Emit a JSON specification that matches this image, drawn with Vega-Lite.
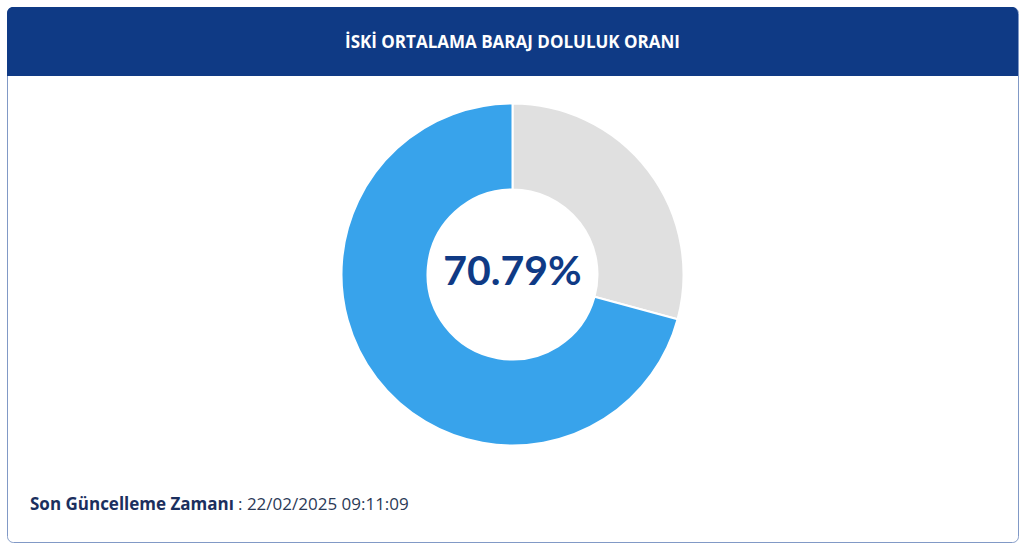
{
  "$schema": "https://vega.github.io/schema/vega-lite/v6.json",
  "width": 1024,
  "height": 547,
  "autosize": {"type": "fit", "contains": "padding"},
  "padding": {"left": 7, "top": 7, "right": 6, "bottom": 5},
  "background": "white",
  "view": {"stroke": "#8199c6", "strokeWidth": 1, "cornerRadius": 6, "fill": "white"},
  "config": {"font": "Open Sans"},
  "datasets": {
    "baraj": [
      {"durum": "Boş", "oran": 0.2921},
      {"durum": "Dolu", "oran": 0.7079}
    ],
    "baslik": [{"metin": "İSKİ ORTALAMA BARAJ DOLULUK ORANI"}],
    "guncelleme": [{"etiket": "Son Güncelleme Zamanı", "zaman": ": 22/02/2025 09:11:09"}]
  },
  "layer": [
    {
      "data": {"name": "baslik"},
      "mark": {"type": "rect", "color": "#0f3a85", "cornerRadiusTopLeft": 6, "cornerRadiusTopRight": 6},
      "encoding": {
        "x": {"value": 0},
        "x2": {"value": "width"},
        "y": {"value": 0},
        "y2": {"value": 69}
      }
    },
    {
      "data": {"name": "baslik"},
      "mark": {"type": "text", "color": "white", "fontSize": 17, "fontWeight": "bold", "baseline": "middle", "align": "center"},
      "encoding": {
        "text": {"field": "metin"},
        "y": {"value": 36}
      }
    },
    {
      "data": {"name": "baraj"},
      "mark": {"type": "arc", "innerRadius": 85, "outerRadius": 171, "stroke": "white", "strokeWidth": 2},
      "encoding": {
        "theta": {"field": "oran", "type": "quantitative", "stack": true},
        "order": {"field": "durum", "sort": "ascending"},
        "color": {
          "field": "durum",
          "type": "nominal",
          "scale": {"domain": ["Dolu", "Boş"], "range": ["#38a3eb", "#e0e0e0"]},
          "legend": null
        }
      }
    },
    {
      "data": {"name": "baraj"},
      "transform": [{"filter": "datum.durum === 'Dolu'"}],
      "mark": {"type": "text", "font": "Lato", "color": "#0f3a85", "fontSize": 41, "fontWeight": "bold", "baseline": "middle", "align": "center", "dy": -2},
      "encoding": {
        "text": {"field": "oran", "type": "quantitative", "format": ".2%"}
      }
    },
    {
      "data": {"name": "guncelleme"},
      "mark": {"type": "text", "color": "#1b2f5e", "fontSize": 17, "fontWeight": "bold", "baseline": "middle", "align": "left"},
      "encoding": {
        "text": {"field": "etiket"},
        "x": {"value": 23},
        "y": {"value": 498}
      }
    },
    {
      "data": {"name": "guncelleme"},
      "mark": {"type": "text", "color": "#2b3a57", "fontSize": 17, "baseline": "middle", "align": "left"},
      "encoding": {
        "text": {"field": "zaman"},
        "x": {"value": 231},
        "y": {"value": 498}
      }
    }
  ]
}
